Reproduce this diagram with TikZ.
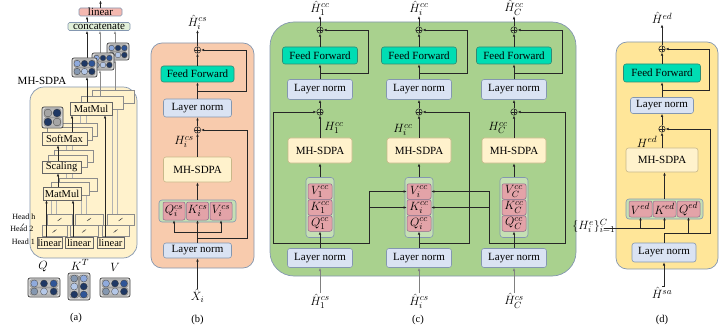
\documentclass[tikz,border=0pt]{standalone}
\usepackage{fontspec}
\setmainfont{Liberation Serif}
\DeclareMathSizes{12.5}{12.5}{9.2}{7}
\DeclareMathSizes{12}{12}{8.8}{7}
\usetikzlibrary{arrows.meta,calc}
\definecolor{bordB}{HTML}{8497B0}
\definecolor{lnfill}{HTML}{DAE3F3}
\definecolor{fffill}{HTML}{00DDB3}
\definecolor{ffdraw}{HTML}{2E8B74}
\definecolor{mhfill}{HTML}{FFF2CC}
\definecolor{mhdraw}{HTML}{C8B88A}
\definecolor{qkvfill}{HTML}{C5E0B4}
\definecolor{pkfill}{HTML}{E3A3A8}
\definecolor{pkdraw}{HTML}{8E6A8E}
\definecolor{bpanel}{HTML}{F8CBAD}
\definecolor{cpanel}{HTML}{A9D18E}
\definecolor{dpanel}{HTML}{FFE699}
\definecolor{apanel}{HTML}{FFF2CC}
\definecolor{catfill}{HTML}{E2F0D9}
\definecolor{linfill}{HTML}{F4B8B0}
\definecolor{dA}{HTML}{8FAADC}
\definecolor{dB}{HTML}{1F3864}
\definecolor{dC}{HTML}{2F5597}
\definecolor{dD}{HTML}{8497B0}
\definecolor{dE}{HTML}{B4C7E7}
\definecolor{dG}{HTML}{A5A5A5}
\newcommand\mxicon[8]{%
\begin{scope}[shift={(#1,#2)}]
 \draw[iconbox] (0,0) rectangle (#3,#4);
 \pgfmathsetmacro\mxcw{(#3-3)/#5}
 \pgfmathsetmacro\mxch{(#4-3)/#6}
 \pgfmathsetmacro\mxr{0.44*min(\mxcw,\mxch)}
 \ifnum#8=0
  \foreach \mxrr in {1,...,#6} \draw[pill] (2,{1.5+(\mxrr-1)*\mxch+0.4}) rectangle ({#3-2},{1.5+\mxrr*\mxch-0.4});
 \else
  \foreach \mxcc in {1,...,#5} \draw[pill] ({1.5+(\mxcc-1)*\mxcw+0.4},2) rectangle ({1.5+\mxcc*\mxcw-0.4},{#4-2});
 \fi
 \foreach \mxcol [count=\mxk from 0] in {#7}{
  \pgfmathsetmacro\mxi{mod(\mxk,#5)}
  \pgfmathsetmacro\mxj{floor(\mxk/#5)}
  \filldraw[draw=black!75,line width=0.3pt,fill=\mxcol] ({1.5+(\mxi+0.5)*\mxcw},{1.5+(\mxj+0.5)*\mxch}) circle[radius=\mxr pt];
 }
\end{scope}}
\newcommand\opstack[8]{%
 \draw[opback] ({#2+2*(#6)},{#3+2*(#7)}) rectangle ({#4+2*(#6)},{#5+2*(#7)});
 \draw[opback] ({#2+(#6)},{#3+(#7)}) rectangle ({#4+(#6)},{#5+(#7)});
 \node[opbox,minimum width={(#4-#2)*1pt},minimum height={(#5-#3)*1pt}] (#1) at ({(#2+#4)/2},{(#3+#5)/2}) {#8};}
\begin{document}
\begin{tikzpicture}[x=1pt,y=-1pt,
 ar/.style={-{Latex[length=3.2pt,width=2.6pt]},line width=0.6pt,draw=black!85},
 wire/.style={line width=0.6pt,draw=black!85},
 box/.style={rounded corners=2.5pt,line width=0.6pt,inner sep=0pt,font=\fontsize{11}{12}\selectfont},
 lnbox/.style={box,fill=lnfill,draw=bordB},
 ffbox/.style={box,fill=fffill,draw=ffdraw},
 mhbox/.style={box,fill=mhfill,draw=mhdraw},
 qkvbox/.style={rounded corners=3pt,line width=0.6pt,fill=qkvfill,draw=bordB,inner sep=0pt},
 pk/.style={rounded corners=2pt,line width=0.5pt,fill=pkfill,draw=pkdraw,inner sep=0pt,font=\fontsize{12}{13}\selectfont},
 sumc/.style={circle,draw=black!85,line width=0.5pt,minimum size=6.5pt,inner sep=0pt,
   path picture={\draw[line width=0.4pt] (path picture bounding box.north) -- (path picture bounding box.south) (path picture bounding box.west) -- (path picture bounding box.east);}},
 lbl/.style={font=\fontsize{12.5}{13}\selectfont,inner sep=0.5pt},
 panel/.style={line width=0.7pt,draw=bordB},
 iconbox/.style={draw=black!75,fill=gray!30,line width=0.7pt,rounded corners=2pt},
 pill/.style={draw=black!55,fill=gray!50,line width=0.35pt,rounded corners=1.5pt},
 opback/.style={draw=black!45,fill=apanel,line width=0.4pt},
 opbox/.style={draw=black!60,fill=apanel,line width=0.5pt,inner sep=0pt,font=\fontsize{10.5}{11}\selectfont},
 hline/.style={line width=0.4pt,draw=black!30},
 headl/.style={font=\fontsize{8}{9}\selectfont,inner sep=0pt,anchor=east},
 ]
\useasboundingbox (0,0) rectangle (728,326);

% ================= panel (a)
\draw[panel,fill=apanel,rounded corners=14pt] (30,87) rectangle (137,258);
\node[font=\fontsize{11}{12}\selectfont,inner sep=0pt] (amh) at (42,81) {MH-SDPA};
\foreach \xx in {51,56} \draw[hline] (\xx,225) -- (\xx,192);
\foreach \xx in {81,86} \draw[hline] (\xx,225) -- (\xx,192);
\foreach \xx in {112,117} \draw[hline] (\xx,225) -- (\xx,104);
\foreach \xx in {66,72} \draw[hline] (\xx,183) -- (\xx,162);
\foreach \xx in {66,72} \draw[hline] (\xx,156) -- (\xx,136);
\foreach \xx in {80,86} \draw[hline] (\xx,127) -- (\xx,104);
\opstack{amm2}{70}{102}{112}{115}{11}{-6}{MatMul}
\opstack{asm}{42}{132}{87}{145}{5}{-4.5}{SoftMax}
\opstack{asc}{42}{161}{81}{173}{6}{-5.5}{Scaling}
\opstack{amm1}{43}{187}{81}{200}{8}{-4.5}{MatMul}
\opstack{alin1}{37}{237}{62}{248}{5}{-11.5}{linear}
\opstack{alin2}{65}{237}{93}{248}{5}{-11.5}{linear}
\opstack{alin3}{97}{237}{124}{248}{5}{-11.5}{linear}
\foreach \cx/\cy in {54.5/231,59.5/219.5,84/231,89/219.5,115.5/231,120.5/219.5}
  {\draw[line width=0.5pt,black!70] (\cx-2,\cy+1.5) -- (\cx+2,\cy-1.5); \fill[black!70] (\cx,\cy) circle[radius=0.7pt];}
\node[headl] (ah1) at (35,242) {Head 1};
\node[headl] (ah2) at (33.5,229) {Head 2};
\node[headl] (ahh) at (35.5,216.5) {Head h};
\draw[line width=0.4pt] (21.5,226.5) -- (24,223.5);
\mxicon{42}{107}{21}{21}{2}{2}{dG,dB,dB,dG}{0}
\draw[ar] ([xshift=-3pt]alin1.north) -- ([xshift=-3pt]alin1.north |- amm1.south);
\draw[ar] ([xshift=-6pt]alin2.north) -- ([xshift=-6pt]alin2.north |- amm1.south);
\draw[ar] ([xshift=-5.5pt]alin3.north) -- ([xshift=-5.5pt]alin3.north |- amm2.south);
\draw[ar] ([xshift=-4pt]amm1.north) -- ([xshift=-4pt]amm1.north |- asc.south);
\draw[ar] ([xshift=-3.5pt]asc.north) -- ([xshift=-3.5pt]asc.north |- asm.south);
\draw[ar] ([xshift=7.5pt]asm.north) -- ([xshift=7.5pt]asm.north |- amm2.south);
\node[box,fill=linfill,draw=bordB,minimum width=43pt,minimum height=8pt,rounded corners=1.5pt] (alin) at (100.5,12) {linear};
\node[box,fill=catfill,draw=bordB,minimum width=62pt,minimum height=8pt,rounded corners=1.5pt] (acat) at (99,26.5) {concatenate};
\coordinate (atop) at (100.5,0.5);
\draw[ar] (alin.north) -- (atop);
\draw[ar] ([xshift=-12pt]acat.north) -- ([xshift=-12pt]acat.north |- alin.south);
\coordinate (i1b) at (87,77); \coordinate (i1t) at (87,58);
\coordinate (i2b) at (100,70); \coordinate (i2t) at (100,53);
\coordinate (i3b) at (115,60); \coordinate (i3t) at (115,43);
\coordinate (m2b1) at (100,96); \coordinate (m2b2) at (115,90);
\draw[ar] ([xshift=-4pt]amm2.north) -- (i1b);
\draw[ar,draw=black!45] (m2b1) -- (i2b);
\draw[ar,draw=black!45] (m2b2) -- (i3b);
\draw[ar] (i1t) -- (i1t |- acat.south);
\draw[ar,draw=black!45] (i2t) -- (i2t |- acat.south);
\draw[ar,draw=black!45] (i3t) -- (i3t |- acat.south);
\mxicon{107}{43}{22}{17}{3}{2}{dA,dB,dC,dD,dE,dB}{0}
\mxicon{92}{53}{22}{17}{3}{2}{dA,dB,dC,dD,dE,dB}{0}
\mxicon{72}{58}{25}{19}{3}{2}{dA,dB,dC,dD,dE,dB}{0}
\node[lbl] (aq) at (43,267) {$Q$};
\node[lbl] (ak) at (80,265) {$K^T$};
\node[lbl] (av) at (115,267) {$V$};
\mxicon{28}{278}{32}{19}{3}{2}{dA,dB,dC,dD,dE,dB}{0}
\mxicon{68}{273}{22}{27}{2}{3}{dD,dA,dE,dB,dB,dC}{1}
\mxicon{100}{278}{30}{19}{3}{2}{dA,dB,dC,dD,dE,dB}{0}
\node[font=\fontsize{10.5}{11}\selectfont] (acap) at (76,318) {(a)};

% ================= panel (b)
\draw[panel,fill=bpanel,rounded corners=11pt] (151,43) rectangle (254,268);
\node[ffbox,minimum width=73pt,minimum height=16pt] (bff) at (197.5,74) {Feed Forward};
\node[lnbox,minimum width=68pt,minimum height=18pt] (bln2) at (197.5,108) {Layer norm};
\node[mhbox,minimum width=68pt,minimum height=25pt] (bmh) at (197.5,169.5) {MH-SDPA};
\node[qkvbox,minimum width=77pt,minimum height=22pt] (bqkv) at (197.5,211) {};
\node[pk,minimum width=22pt,minimum height=18pt] (bq) at (174,211) {$Q_i^{cs}$};
\node[pk,minimum width=22pt,minimum height=18pt] (bk) at (197.5,211) {$K_i^{cs}$};
\node[pk,minimum width=22pt,minimum height=18pt] (bv) at (221,211) {$V_i^{cs}$};
\node[lnbox,minimum width=68pt,minimum height=15pt] (bln1) at (197.5,250.5) {Layer norm};
\node[sumc] (bs1) at (197.5,50) {};
\node[sumc] (bs2) at (197.5,130) {};
\node[lbl] (bout) at (197.5,22) {$\hat{H}_i^{cs}$};
\node[lbl] (bh) at (184,142) {$H_i^{cs}$};
\node[lbl] (bin) at (197.5,296) {$\hat{X}_i$};
\node[font=\fontsize{10.5}{11}\selectfont] (bcap) at (197.5,320) {(b)};
\draw[ar] (bin.north) -- (bln1.south);
\coordinate (bj) at (197.5,232);
\coordinate (bj2) at (197.5,238);
\coordinate (bj3) at (197.5,91);
\draw[ar] (bln1.north) -- (bk.south);
\draw[ar] (bj) -| (bq.south);
\draw[ar] (bj) -| (bv.south);
\draw[ar] (bj2) -- (247,238) |- (bs2.east);
\draw[ar] (bqkv.north) -- (bmh.south);
\draw[ar] (bmh.north) -- (bs2.south);
\draw[ar] (bs2.north) -- (bln2.south);
\draw[ar] (bln2.north) -- (bff.south);
\draw[ar] (bj3) -- (246,91) |- (bs1.east);
\draw[ar] (bff.north) -- (bs1.south);
\draw[ar] (bs1.north) -- (bout.south);

% ================= panel (c)
\draw[panel,fill=cpanel,rounded corners=24pt] (270,22) rectangle (576,276);
\foreach \n/\x in {1/320,i/419,C/514}{
 \node[ffbox,minimum width=75pt,minimum height=17pt] (cff\n) at (\x,55.5) {Feed Forward};
 \node[lnbox,minimum width=65pt,minimum height=20pt] (cln2\n) at (\x,89.5) {Layer norm};
 \node[mhbox,minimum width=64pt,minimum height=25pt] (cmh\n) at (\x,150.5) {MH-SDPA};
 \node[qkvbox,minimum width=28pt,minimum height=60pt] (cqkv\n) at (\x,207.5) {};
 \node[pk,minimum width=24pt,minimum height=15.5pt] (cv\n) at (\x,191.5) {$V_\n^{cc}$};
 \node[pk,minimum width=24pt,minimum height=15.5pt] (ck\n) at (\x,207.5) {$K_\n^{cc}$};
 \node[pk,minimum width=24pt,minimum height=15.5pt] (cq\n) at (\x,223.5) {$Q_\n^{cc}$};
 \node[lnbox,minimum width=65pt,minimum height=19pt] (cln1\n) at (\x,258) {Layer norm};
 \node[sumc] (cs1\n) at (\x,30) {};
 \node[sumc] (cs2\n) at (\x,112) {};
 \node[lbl] (cout\n) at (\x,8) {$\hat{H}_\n^{cc}$};
 \node[lbl] (cin\n) at (\x,301) {$\hat{H}_\n^{cs}$};
 \draw[ar,draw=black!50] (cin\n.north) -- (cln1\n.south);
 \draw[ar] (cln1\n.north) -- (cq\n.south);
 \draw[ar] (cqkv\n.north) -- (cmh\n.south);
 \draw[ar] (cmh\n.north) -- (cs2\n.south);
 \draw[ar] (cs2\n.north) -- (cln2\n.south);
 \draw[ar] (cln2\n.north) -- (cff\n.south);
 \draw[ar] (cff\n.north) -- (cs1\n.south);
 \draw[ar] (cs1\n.north) -- (cout\n.south);
 \coordinate (cf\n) at (\x,73);
 \draw[ar] (cf\n) -- (\x+48,73) |- (cs1\n.east);
 \coordinate (cj\n) at (\x,243);
}
\coordinate (cx1) at (369,243);
\coordinate (cxC) at (489,243);
\draw[ar] (cj1) -- (273,243) |- (cs21.west);
\draw[ar] (cj1) -- (cx1) |- (cvi.west);
\draw[ar] (cx1) |- (cki.west);
\draw[ar] (cji) -- (469,243) |- (cs2i.east);
\draw[ar] (cjC) -- (565,243) |- (cs2C.east);
\draw[ar] (cjC) -- (cxC) |- (cvi.east);
\draw[ar] (cxC) |- (cki.east);
\node[lbl] (ch1) at (334,128) {$H_1^{cc}$};
\node[lbl] (chi) at (403,130) {$H_i^{cc}$};
\node[lbl] (chC) at (498,128) {$H_C^{cc}$};
\node[font=\fontsize{10.5}{11}\selectfont] (ccap) at (418,320) {(c)};

% ================= panel (d)
\draw[panel,fill=dpanel,rounded corners=11pt] (616,42) rectangle (718,269);
\node[ffbox,minimum width=77pt,minimum height=18pt] (dff) at (662,73) {Feed Forward};
\node[lnbox,minimum width=63pt,minimum height=16pt] (dln2) at (662,105.5) {Layer norm};
\node[mhbox,minimum width=72pt,minimum height=24pt] (dmh) at (662,160) {MH-SDPA};
\node[qkvbox,minimum width=77pt,minimum height=20pt] (dqkv) at (664.5,209) {};
\node[pk,minimum width=23pt,minimum height=16pt] (dv) at (640.5,209) {$V^{ed}$};
\node[pk,minimum width=23pt,minimum height=16pt] (dk) at (664.5,209) {$K^{ed}$};
\node[pk,minimum width=23pt,minimum height=16pt] (dq) at (688.5,209) {$Q^{ed}$};
\node[lnbox,minimum width=64pt,minimum height=19pt] (dln1) at (664,252.5) {Layer norm};
\node[sumc] (ds1) at (662,49) {};
\node[sumc] (ds2) at (662,129) {};
\node[lbl] (dout) at (662,18) {$\hat{H}^{ed}$};
\node[lbl] (dh) at (647,142) {$H^{ed}$};
\node[lbl] (din) at (662,293) {$\hat{H}^{sa}$};
\node[font=\fontsize{10.5}{11}\selectfont] (dcap) at (662,320) {(d)};
\node[lbl,anchor=east] (dhe) at (616,226) {$\{H_i^e\}_{i=1}^C$};
\draw[ar] (din.north) -- (din.north -| dln1.south) -- (dln1.south);
\coordinate (dj) at (664,233);
\coordinate (dhs) at (604,228);
\coordinate (dj2) at (662,90);
\draw[wire] (dln1.north) -- (dj);
\draw[ar] (dj) -| (dq.south);
\draw[ar] (dj) -- (710,233) |- (ds2.east);
\draw[ar] (dhs) -| (dv.south);
\draw[ar] (dhs) -| (dk.south);
\draw[ar] (dqkv.north) -- (dqkv.north |- dmh.south);
\draw[ar] (dmh.north) -- (ds2.south);
\draw[ar] (ds2.north) -- (dln2.south);
\draw[ar] (dln2.north) -- (dff.south);
\draw[ar] (dj2) -- (709,90) |- (ds1.east);
\draw[ar] (dff.north) -- (ds1.south);
\draw[ar] (ds1.north) -- (dout.south);
\end{tikzpicture}
\end{document}
